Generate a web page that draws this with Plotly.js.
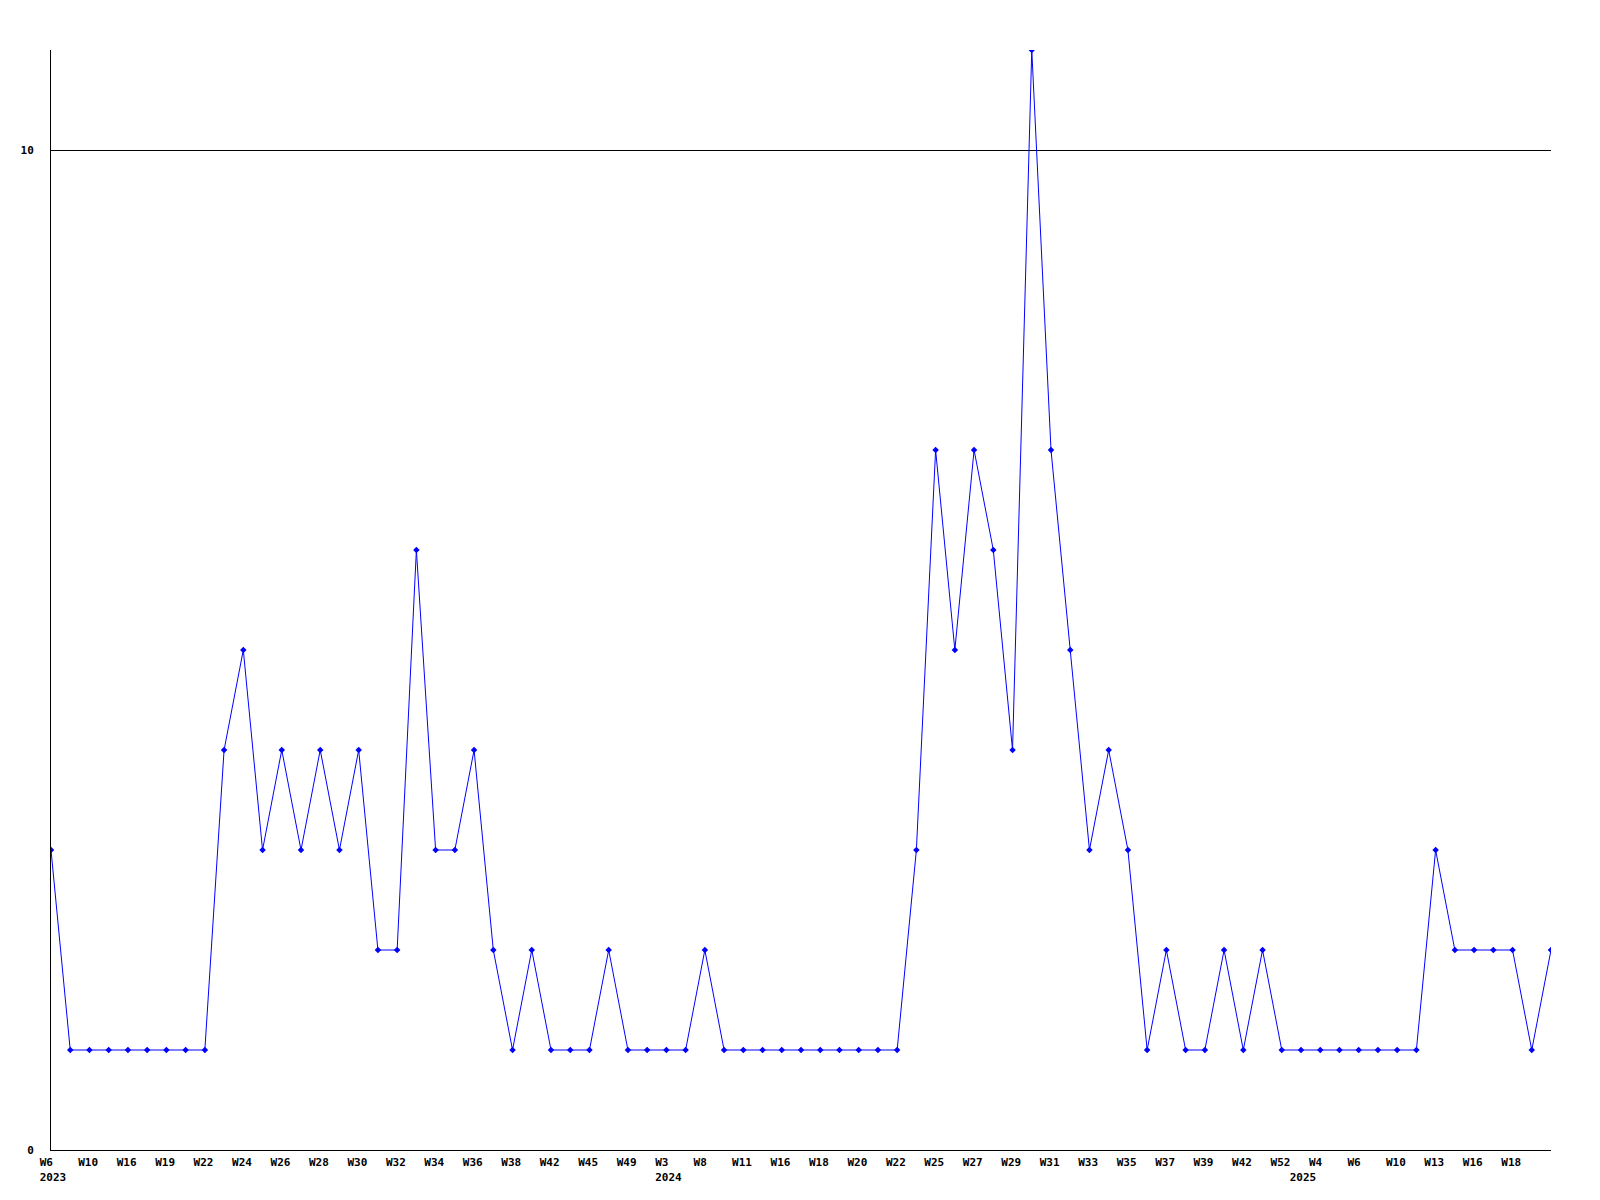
<!DOCTYPE html>
<html>
<head>
<meta charset="utf-8">
<script src="https://cdn.plot.ly/plotly-3.0.1.min.js"></script>
<style>html,body{margin:0;padding:0;background:#fff;}#chart{width:1600px;height:1200px;}</style>
</head>
<body>
<div id="chart"></div>
<script>
// Year of each point
const years = [
  2023,2023,2023,2023,2023,2023,2023,2023,2023,2023,2023,2023,2023,2023,2023,2023,
  2023,2023,2023,2023,2023,2023,2023,2023,2023,2023,2023,2023,2023,2023,2023,2023,
  2024,2024,2024,2024,2024,2024,2024,2024,2024,2024,2024,2024,2024,2024,2024,2024,2024,
  2024,2024,2024,2024,2024,2024,2024,2024,2024,2024,2024,2024,2024,2024,2024,2024,
  2025,2025,2025,2025,2025,2025,2025,2025,2025,2025,2025,2025,2025,2025
];
// Week labels of each point
const weeks = [
  "W6","W8","W10","W13","W16","W17","W19","W21","W22","W23","W24","W25","W26","W27","W28","W29",
  "W30","W31","W32","W33","W34","W35","W36","W37","W38","W40","W42","W44","W45","W47","W49","W51",
  "W3","W5","W8","W9","W11","W14","W16","W17","W18","W19","W20","W21","W22","W24","W25","W26","W27",
  "W28","W29","W30","W31","W32","W33","W34","W35","W36","W37","W38","W39","W40","W42","W47","W52",
  "W2","W4","W5","W6","W8","W10","W11","W13","W14","W16","W17","W18","W19","W20"
];
// Values
const counts = [
  3,1,1,1,1,1,1,1,1,4,5,3,4,3,4,3,
  4,2,2,6,3,3,4,2,1,2,1,1,1,2,1,1,
  1,1,2,1,1,1,1,1,1,1,1,1,1,3,7,5,7,
  6,4,11,7,5,3,4,3,1,2,1,1,2,1,2,1,
  1,1,1,1,1,1,1,3,2,2,2,2,1,2
];

const cats = weeks.map((w, i) => years[i] + "-" + w);
const pad = s => s + "\u00a0".repeat(Math.max(0, 4 - s.length));

const tickvals = [], ticktext = [];
cats.forEach((c, i) => {
  const labeled = (i % 2 === 0) && i < cats.length - 1;
  const firstOfYear = i === 0 || years[i] !== years[i - 1];
  if (!labeled && !firstOfYear) return;
  tickvals.push(c);
  ticktext.push((labeled ? pad(weeks[i]) : "\u00a0\u00a0\u00a0\u00a0") + (firstOfYear ? "<br>" + years[i] : ""));
});

const font = {family: "DejaVu Sans Mono", size: 11, color: "#000", weight: "bold"};

Plotly.newPlot("chart", [{
  x: cats,
  y: counts,
  type: "scatter",
  mode: "lines+markers",
  line: {color: "#0000ff", width: 1},
  marker: {color: "#0000ff", size: 5, symbol: "diamond"},
  hoverinfo: "skip"
}], {
  width: 1600,
  height: 1200,
  margin: {l: 51, r: 49, t: 50, b: 50},
  paper_bgcolor: "#fff",
  plot_bgcolor: "#fff",
  showlegend: false,
  font: font,
  xaxis: {
    type: "category",
    range: [0, cats.length - 1],
    tickmode: "array",
    tickvals: tickvals,
    ticktext: ticktext,
    tickangle: 0,
    ticklabelshift: 2,
    ticklabelstandoff: 2,
    showgrid: false,
    zeroline: false,
    showline: true,
    linecolor: "#000",
    linewidth: 1,
    ticks: "",
    tickfont: font
  },
  yaxis: {
    range: [0, 11],
    tickmode: "array",
    tickvals: [0, 10],
    ticktext: ["0", "10"],
    showgrid: true,
    gridcolor: "#000",
    gridwidth: 1,
    zeroline: false,
    showline: true,
    linecolor: "#000",
    linewidth: 1,
    ticks: "",
    ticklabelstandoff: 14,
    tickfont: font
  }
}, {displayModeBar: false, staticPlot: true});
</script>
</body>
</html>
